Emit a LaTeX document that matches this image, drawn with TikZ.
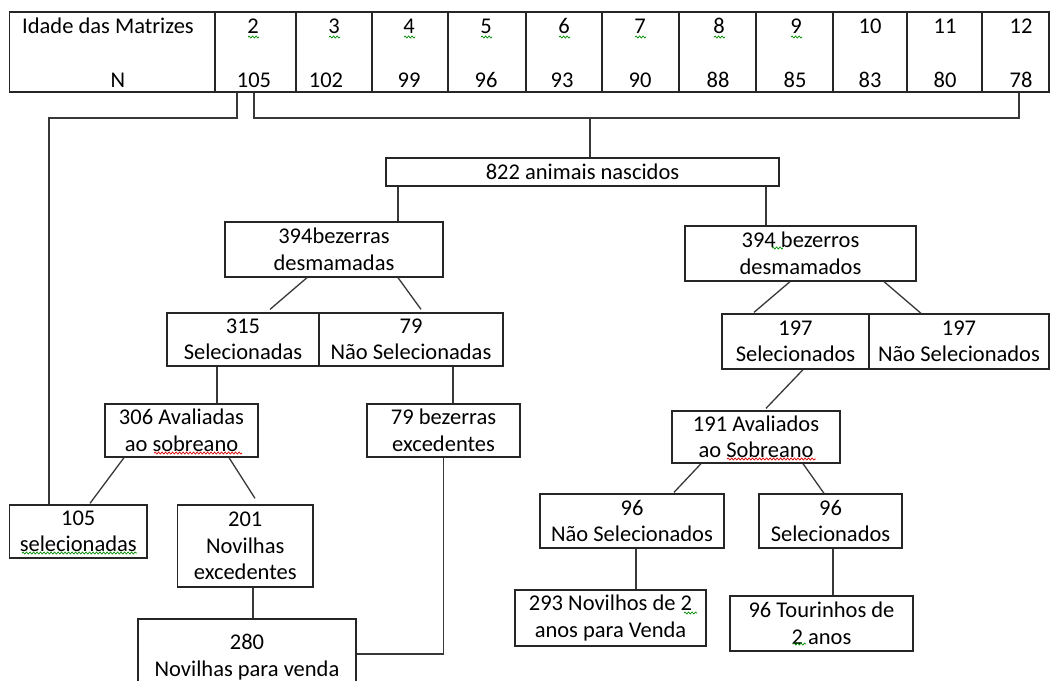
\documentclass[tikz,border=0pt]{standalone}
\usepackage{fontspec}
\setmainfont{Carlito}
\usetikzlibrary{calc,decorations.pathmorphing}
\newcommand\boxfont{\fontsize{22.5}{26.5}\selectfont}
\begin{document}
\begin{tikzpicture}[x=1pt,y=-1pt,
  box/.style={draw=black!85, line width=1.3pt, inner sep=0pt, align=center, font=\boxfont},
  cell/.style={draw=black!85, line width=1.3pt, inner sep=0pt, minimum height=80pt},
  ln/.style={draw=black!78, line width=1.3pt},
  lbl/.style={inner sep=0pt, font=\boxfont, anchor=base},
  gw/.style={draw=green!55!black, line width=0.7pt, decorate, decoration={snake, amplitude=1pt, segment length=3.5pt}},
  rw/.style={draw=red!85!black, line width=0.7pt, decorate, decoration={snake, amplitude=1pt, segment length=3.5pt}}]
\useasboundingbox (0,0) rectangle (1051,680);
\fill[white] (0,0) rectangle (1051,680);

% ---------- table ----------
\node[cell, minimum width=205.5pt] (c0) at (112.25,52) {};
\node[cell, minimum width=81pt] (c1) at (255.5,52) {};
\node[cell, minimum width=76pt] (c2) at (334,52) {};
\node[cell, minimum width=76pt] (c3) at (410,52) {};
\node[cell, minimum width=78pt] (c4) at (487,52) {};
\node[cell, minimum width=76pt] (c5) at (564,52) {};
\node[cell, minimum width=77pt] (c6) at (640.5,52) {};
\node[cell, minimum width=77pt] (c7) at (717.5,52) {};
\node[cell, minimum width=77pt] (c8) at (794.5,52) {};
\node[cell, minimum width=74pt] (c9) at (870,52) {};
\node[cell, minimum width=75pt] (c10) at (944.5,52) {};
\node[cell, minimum width=67pt] (c11) at (1015.5,52) {};

\node[lbl, anchor=base west] (h0) at (22,33) {Idade das Matrizes};
\node[lbl] (n0) at (118,87) {N};
\node[lbl] (h1) at (253,33) {2};   \node[lbl] (n1) at (254,87) {105};
\node[lbl] (h2) at (334,33) {3};   \node[lbl] (n2) at (326,87) {102};
\node[lbl] (h3) at (409,33) {4};   \node[lbl] (n3) at (409,87) {99};
\node[lbl] (h4) at (486,33) {5};   \node[lbl] (n4) at (486,87) {96};
\node[lbl] (h5) at (564,33) {6};   \node[lbl] (n5) at (562,87) {93};
\node[lbl] (h6) at (640,33) {7};   \node[lbl] (n6) at (640,87) {90};
\node[lbl] (h7) at (719,33) {8};   \node[lbl] (n7) at (718,87) {88};
\node[lbl] (h8) at (796,33) {9};   \node[lbl] (n8) at (795,87) {85};
\node[lbl] (h9) at (870,33) {10};  \node[lbl] (n9) at (870,87) {83};
\node[lbl] (h10) at (945,33) {11}; \node[lbl] (n10) at (945,87) {80};
\node[lbl] (h11) at (1021,33) {12};\node[lbl] (n11) at (1021,87) {78};

\foreach \n in {h1,h2,h3,h4,h5,h6,h7,h8}{
  \draw[gw] ($(\n.base)+(-5,4)$) -- ($(\n.base)+(6,4)$);
}

% ---------- boxes ----------
\node[box, minimum width=393pt, minimum height=28pt] (T822) at (582.5,172) {822 animais nascidos};
\node[box, minimum width=218pt, minimum height=55pt] (Bz) at (334,249.5) {394bezerras\\desmamadas};
\node[box, minimum width=231pt, minimum height=55pt] (Bo) at (800.5,253.5) {394 bezerros\\desmamados};
\node[box, minimum width=152pt, minimum height=53pt] (S315) at (243,339.5) {315\\Selecionadas};
\node[box, minimum width=184pt, minimum height=53pt] (N79) at (411,339.5) {79\\Não Selecionadas};
\node[box, minimum width=147pt, minimum height=55pt] (S197) at (795.5,341.5) {197\\Selecionados};
\node[box, minimum width=180pt, minimum height=55pt] (N197) at (959,341.5) {197\\Não Selecionados};
\node[box, minimum width=153pt, minimum height=53pt] (A306) at (181.5,430.5) {306 Avaliadas\\ao sobreano};
\node[box, minimum width=153pt, minimum height=53pt] (E79) at (443.5,430.5) {79 bezerras\\excedentes};
\node[box, minimum width=168pt, minimum height=52pt] (A191) at (756,437) {191 Avaliados\\ao Sobreano};
\node[box, minimum width=137.5pt, minimum height=53pt] (Sel105) at (78.25,531.5) {105\\selecionadas};
\node[box, minimum width=135.5pt, minimum height=82pt] (N201) at (245.25,546) {201\\Novilhas\\excedentes};
\node[box, minimum width=184pt, minimum height=54pt] (NS96) at (632,521) {96\\Não Selecionados};
\node[box, minimum width=143pt, minimum height=54pt] (S96) at (830.5,521) {96\\Selecionados};
\node[box, minimum width=191pt, minimum height=56pt] (N293) at (610.5,618) {293 Novilhos de 2\\anos para Venda};
\node[box, minimum width=183pt, minimum height=55pt] (T96) at (821.5,623.5) {96 Tourinhos de\\2 anos};
\node[box, minimum width=218pt, minimum height=76pt] (V280) at (247,657) {280\\Novilhas para venda};

% spell-check marks
\draw[rw] (154,453) -- (242,453);
\draw[gw] (22,553) -- (137,553);
\draw[rw] (727,459) -- (816,459);
\draw[gw] (684,613) -- (697,613);
\draw[gw] (793,644) -- (806,644);
\draw[gw] (772,248) -- (783,248);

% ---------- connectors ----------
\coordinate (j1) at (237,118);
\coordinate (j2) at (254,118);
\coordinate (j3) at (1019,118);
\coordinate (j4) at (590,118);
\coordinate (j5) at (49,118);
\draw[ln] (j1 |- c1.south) -- (j1) -- (j5) -- (j5 |- Sel105.north);
\draw[ln] (j2 |- c1.south) -- (j2) -- (j3) -- (j3 |- c11.south);
\draw[ln] (j4) -- (j4 |- T822.north);

\coordinate (a1) at ($(Bz.north)+(64,0)$);
\draw[ln] (a1 |- T822.south) -- (a1);
\coordinate (a2) at ($(Bo.north)+(-34.5,0)$);
\draw[ln] (a2 |- T822.south) -- (a2);

\draw[ln] ($(Bz.south)+(-27,0)$) -- ($(S315.north)+(27,-3)$);
\draw[ln] ($(Bz.south)+(64,0)$) -- ($(N79.north)+(10,-3)$);
\draw[ln] ($(Bo.south)+(-10.5,0)$) -- ($(S197.north)+(-41.5,-1)$);
\draw[ln] ($(Bo.south)+(83.5,0)$) -- ($(N197.north)+(-38,0)$);

\coordinate (b1) at ($(S315.south)+(-26,0)$);
\draw[ln] (b1) -- (b1 |- A306.north);
\coordinate (b2) at ($(N79.south)+(42,0)$);
\draw[ln] (b2) -- (b2 |- E79.north);

\draw[ln] ($(A306.south)+(-57.5,0)$) -- ($(Sel105.north)+(11.75,-1)$);
\draw[ln] ($(A306.south)+(47.5,0)$) -- ($(N201.north)+(9.75,-6)$);
\coordinate (b3) at ($(N201.south)+(7.75,0)$);
\draw[ln] (b3) -- (b3 |- V280.north);
\coordinate (b4) at ($(V280.east)+(0,-3)$);
\draw[ln] (E79.south) |- (b4);

\draw[ln] ($(S197.south)+(7.5,0)$) -- ($(A191.north)+(10,-2)$);
\draw[ln] ($(A191.south)+(-55,0)$) -- ($(NS96.north)+(42,-1)$);
\draw[ln] ($(A191.south)+(47,0)$) -- ($(S96.north)+(-6.5,0)$);
\coordinate (b5) at ($(NS96.south)+(4,0)$);
\draw[ln] (b5) -- (b5 |- N293.north);
\coordinate (b6) at ($(S96.south)+(2.5,0)$);
\draw[ln] (b6) -- (b6 |- T96.north);
\end{tikzpicture}
\end{document}
